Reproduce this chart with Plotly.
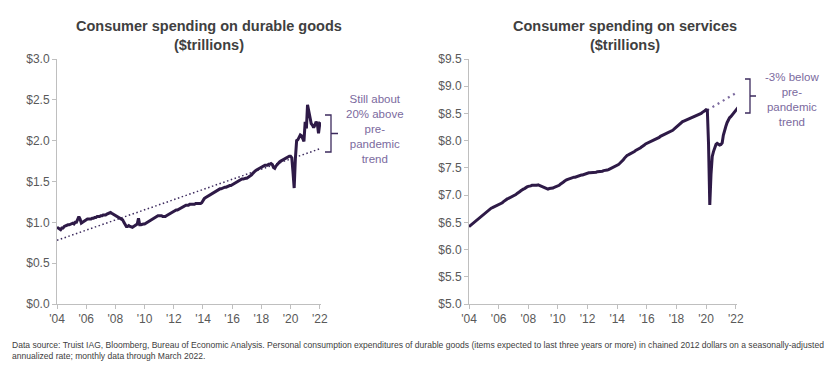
import plotly.graph_objects as go
import pandas as pd

# ---------------- data ----------------
durable_by_year = {
    2004: [0.94, 0.93, 0.92, 0.91, 0.93, 0.93, 0.95, 0.96, 0.96, 0.97, 0.97, 0.98],
    2005: [0.98, 0.99, 0.98, 1.00, 1.00, 1.03, 1.07, 1.04, 0.99, 1.00, 1.01, 1.03],
    2006: [1.04, 1.04, 1.04, 1.04, 1.04, 1.05, 1.05, 1.06, 1.06, 1.07, 1.07, 1.07],
    2007: [1.08, 1.08, 1.09, 1.09, 1.09, 1.10, 1.11, 1.12, 1.12, 1.11, 1.10, 1.09],
    2008: [1.08, 1.07, 1.07, 1.06, 1.05, 1.04, 1.03, 1.00, 0.97, 0.95, 0.95, 0.96],
    2009: [0.95, 0.94, 0.94, 0.95, 0.96, 0.97, 0.98, 1.05, 0.97, 0.97, 0.98, 0.98],
    2010: [0.98, 0.99, 1.00, 1.01, 1.02, 1.03, 1.03, 1.04, 1.05, 1.06, 1.07, 1.08],
    2011: [1.08, 1.08, 1.08, 1.07, 1.07, 1.07, 1.08, 1.09, 1.10, 1.11, 1.12, 1.13],
    2012: [1.14, 1.14, 1.15, 1.15, 1.16, 1.17, 1.17, 1.18, 1.19, 1.20, 1.21, 1.21],
    2013: [1.21, 1.22, 1.22, 1.22, 1.22, 1.22, 1.23, 1.23, 1.23, 1.23, 1.23, 1.24],
    2014: [1.27, 1.29, 1.30, 1.31, 1.32, 1.33, 1.34, 1.35, 1.36, 1.37, 1.38, 1.39],
    2015: [1.40, 1.40, 1.41, 1.41, 1.42, 1.42, 1.43, 1.43, 1.44, 1.44, 1.45, 1.45],
    2016: [1.46, 1.47, 1.47, 1.48, 1.49, 1.50, 1.51, 1.52, 1.53, 1.53, 1.54, 1.54],
    2017: [1.54, 1.55, 1.55, 1.57, 1.58, 1.60, 1.62, 1.63, 1.64, 1.65, 1.66, 1.67],
    2018: [1.67, 1.68, 1.69, 1.70, 1.70, 1.70, 1.71, 1.71, 1.72, 1.71, 1.67, 1.66],
    2019: [1.69, 1.71, 1.73, 1.74, 1.75, 1.76, 1.77, 1.78, 1.79, 1.79, 1.80, 1.81],
    2020: [1.81, 1.79, 1.62, 1.42, 1.78, 2.00, 2.01, 2.04, 2.07, 2.06, 2.03, 1.99],
    2021: [2.23, 2.15, 2.44, 2.36, 2.25, 2.21, 2.19, 2.16, 2.19, 2.23, 2.21, 2.09],
    2022: [2.21, 2.20, 2.19],
}

services_by_year = {
    2004: [6.42, 6.44, 6.46, 6.48, 6.50, 6.52, 6.54, 6.56, 6.58, 6.60, 6.62, 6.64],
    2005: [6.65, 6.67, 6.69, 6.71, 6.73, 6.75, 6.76, 6.77, 6.78, 6.79, 6.80, 6.81],
    2006: [6.82, 6.84, 6.85, 6.86, 6.88, 6.90, 6.92, 6.93, 6.94, 6.95, 6.97, 6.98],
    2007: [6.99, 7.00, 7.01, 7.03, 7.04, 7.06, 7.08, 7.10, 7.11, 7.12, 7.14, 7.15],
    2008: [7.16, 7.16, 7.17, 7.18, 7.18, 7.18, 7.17, 7.18, 7.19, 7.18, 7.17, 7.15],
    2009: [7.14, 7.13, 7.12, 7.12, 7.11, 7.12, 7.12, 7.13, 7.13, 7.14, 7.15, 7.15],
    2010: [7.16, 7.18, 7.20, 7.21, 7.23, 7.25, 7.27, 7.28, 7.29, 7.30, 7.30, 7.31],
    2011: [7.32, 7.33, 7.33, 7.34, 7.35, 7.35, 7.36, 7.37, 7.37, 7.38, 7.39, 7.40],
    2012: [7.40, 7.41, 7.41, 7.41, 7.42, 7.42, 7.42, 7.42, 7.43, 7.43, 7.43, 7.44],
    2013: [7.44, 7.45, 7.45, 7.45, 7.46, 7.47, 7.48, 7.49, 7.50, 7.52, 7.53, 7.53],
    2014: [7.54, 7.56, 7.58, 7.60, 7.62, 7.65, 7.68, 7.71, 7.73, 7.74, 7.75, 7.77],
    2015: [7.78, 7.79, 7.80, 7.82, 7.83, 7.84, 7.86, 7.87, 7.89, 7.90, 7.92, 7.94],
    2016: [7.95, 7.96, 7.97, 7.98, 8.00, 8.01, 8.02, 8.03, 8.04, 8.05, 8.06, 8.08],
    2017: [8.09, 8.10, 8.11, 8.12, 8.13, 8.14, 8.15, 8.16, 8.17, 8.19, 8.21, 8.23],
    2018: [8.25, 8.28, 8.30, 8.32, 8.33, 8.35, 8.36, 8.37, 8.38, 8.38, 8.39, 8.40],
    2019: [8.41, 8.42, 8.43, 8.44, 8.45, 8.47, 8.48, 8.49, 8.50, 8.52, 8.53, 8.55],
    2020: [8.57, 8.56, 7.95, 6.82, 7.38, 7.71, 7.80, 7.87, 7.93, 7.95, 7.94, 7.92],
    2021: [7.93, 7.96, 8.10, 8.20, 8.26, 8.33, 8.38, 8.42, 8.44, 8.47, 8.50, 8.52],
    2022: [8.55, 8.58, 8.61],
}

durable_trend_dates = ["2004-01-01", "2022-03-01"]
durable_trend_values = [0.78, 1.91]
services_trend_dates = ["2020-02-01", "2022-03-01"]
services_trend_values = [8.56, 8.90]

tick_years = list(range(2004, 2023, 2))
tick_labels = ["'" + str(y)[2:] for y in tick_years]
durable_ticks = [0.0, 0.5, 1.0, 1.5, 2.0, 2.5, 3.0]
durable_tick_labels = ["$0.0", "$0.5", "$1.0", "$1.5", "$2.0", "$2.5", "$3.0"]
services_ticks = [5.0, 5.5, 6.0, 6.5, 7.0, 7.5, 8.0, 8.5, 9.0, 9.5]
services_tick_labels = ["$5.0", "$5.5", "$6.0", "$6.5", "$7.0", "$7.5", "$8.0", "$8.5", "$9.0", "$9.5"]

titles = ["<b>Consumer spending on durable goods<br>($trillions)</b>",
          "<b>Consumer spending on services<br>($trillions)</b>"]
durable_note = "Still about<br>20% above<br>pre-<br>pandemic<br>trend"
services_note = "-3% below<br>pre-<br>pandemic<br>trend"
footnote = ("Data source: Truist IAG, Bloomberg, Bureau of Economic Analysis. Personal consumption "
            "expenditures of durable goods (items expected to last three years or more) in chained 2012 "
            "dollars on a seasonally-adjusted<br>annualized rate; monthly data through March 2022.")


def to_series(by_year):
    dates, vals = [], []
    for yr, arr in by_year.items():
        for m, v in enumerate(arr):
            dates.append(pd.Timestamp(year=yr, month=m + 1, day=1))
            vals.append(v)
    return dates, vals


d_dates, d_vals = to_series(durable_by_year)
s_dates, s_vals = to_series(services_by_year)

# ---------------- styling ----------------
PAGE_W, PAGE_H = 832, 373
OFF = 8  # default body margin of the page
W, H = PAGE_W - 2 * OFF, PAGE_H - 2 * OFF
LINE = "#2e1a47"
NOTE = "#7b6a9e"
TEXT = "#404040"
TICK = "#595959"
AXIS = "#bfbfbf"
FONT = "Liberation Sans, Arial, sans-serif"


def px(x):
    return (x - OFF) / W


def py(y):
    return 1 - (y - OFF) / H


fig = go.Figure()

fig.add_trace(go.Scatter(x=durable_trend_dates, y=durable_trend_values, mode="lines",
                         line=dict(color="#3d2b5e", width=1.5, dash="1.5px,2.5px"),
                         xaxis="x", yaxis="y", hoverinfo="skip"))
fig.add_trace(go.Scatter(x=d_dates, y=d_vals, mode="lines",
                         line=dict(color=LINE, width=3), xaxis="x", yaxis="y"))
fig.add_trace(go.Scatter(x=services_trend_dates, y=services_trend_values, mode="lines",
                         line=dict(color=NOTE, width=2.2, dash="2px,4px"),
                         xaxis="x2", yaxis="y2", hoverinfo="skip"))
fig.add_trace(go.Scatter(x=s_dates, y=s_vals, mode="lines",
                         line=dict(color=LINE, width=3), xaxis="x2", yaxis="y2"))

xcommon = dict(type="date", tickvals=[f"{y}-01-01" for y in tick_years], ticktext=tick_labels,
               range=["2004-01-01", "2022-02-01"], showgrid=False, zeroline=False, automargin=False,
               showline=True, linecolor=AXIS, linewidth=1, ticks="outside", ticklen=4,
               tickcolor=AXIS, tickfont=dict(family=FONT, size=12, color=TICK))
ycommon = dict(showgrid=False, zeroline=False, showline=True, linecolor=AXIS, linewidth=1,
               ticks="outside", ticklen=4, tickcolor=AXIS, automargin=False,
               tickfont=dict(family=FONT, size=12, color=TICK))

fig.update_layout(
    template="none",
    width=W, height=H, margin=dict(l=0, r=0, t=0, b=0, pad=0),
    paper_bgcolor="white", plot_bgcolor="white", showlegend=False,
    font=dict(family=FONT, color=TEXT),
    xaxis=dict(xcommon, domain=[px(57), px(321)], anchor="y"),
    yaxis=dict(ycommon, domain=[py(304), py(59)], range=[0, 3], tickvals=durable_ticks,
               ticktext=durable_tick_labels, anchor="x"),
    xaxis2=dict(xcommon, domain=[px(469), px(737)], anchor="y2"),
    yaxis2=dict(ycommon, domain=[py(304), py(59)], range=[5, 9.5], tickvals=services_ticks,
                ticktext=services_tick_labels, anchor="x2"),
)

# titles
for cx, t in [(209, titles[0]), (625, titles[1])]:
    fig.add_annotation(x=px(cx), y=py(36), xref="paper", yref="paper", text=t, showarrow=False,
                       font=dict(family=FONT, size=14.5, color=TEXT), xanchor="center", yanchor="middle")

# notes
fig.add_annotation(x=px(375), y=py(129), xref="paper", yref="paper", text=durable_note,
                   showarrow=False, font=dict(family=FONT, size=11.5, color=NOTE),
                   xanchor="center", yanchor="middle")
fig.add_annotation(x=px(792), y=py(100), xref="paper", yref="paper", text=services_note,
                   showarrow=False, font=dict(family=FONT, size=11.5, color=NOTE),
                   xanchor="center", yanchor="middle")


# brackets
def bracket(x0, xv, xt, ytop, ybot, color):
    ym = (ytop + ybot) / 2
    path = (f"M {px(x0)} {py(ytop)} L {px(xv)} {py(ytop)} L {px(xv)} {py(ybot)} L {px(x0)} {py(ybot)} "
            f"M {px(xv)} {py(ym)} L {px(xt)} {py(ym)}")
    fig.add_shape(type="path", path=path, xref="paper", yref="paper",
                  line=dict(color=color, width=1.3))


bracket(325, 331, 338, 115, 152, "#3d2b5e")
bracket(745, 750, 756, 79, 113, "#3d2b5e")

# footnote
fig.add_annotation(x=px(10), y=py(350), xref="paper", yref="paper", text=footnote, showarrow=False,
                   font=dict(family=FONT, size=8.55, color=TEXT), xanchor="left", yanchor="middle",
                   align="left")

fig.write_html("out.html")
